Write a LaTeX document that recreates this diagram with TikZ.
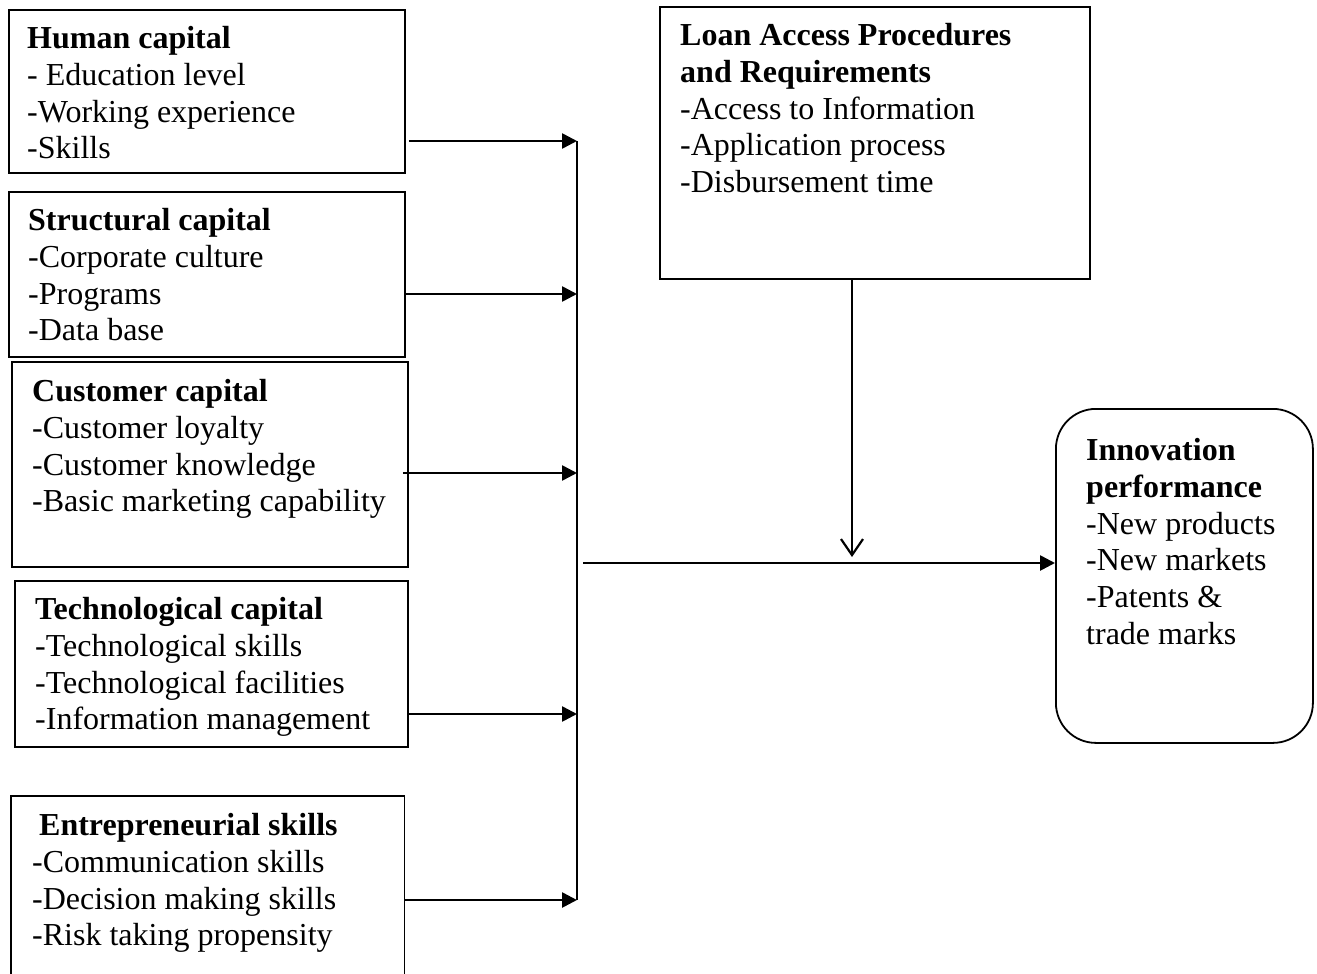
\documentclass[tikz,border=0pt]{standalone}
\usepackage{fontspec}
\setmainfont{Liberation Serif}
\usetikzlibrary{arrows.meta}
\begin{document}
\begin{tikzpicture}[x=1pt,y=-1pt,
  boxshape/.style={draw,line width=1.8pt,inner sep=0pt,anchor=north west},
  boxtext/.style={inner sep=0pt,anchor=north west,align=left,
    font=\fontsize{32}{36.7}\selectfont},
  feed/.style={line width=2.6pt,-{Triangle[length=15pt,width=15pt]}},
  bus/.style={line width=2pt},
  moderate/.style={line width=2.2pt,-{Straight Barb[length=16pt,width=22pt]}}]
\useasboundingbox (0,0) rectangle (1317,974);

% left column of capital boxes
\node[boxshape,minimum width=396pt,minimum height=163pt] (hum) at (8,9) {};
\node[boxtext] (hum-t) at (27,26.4)
  {\textbf{Human capital}\\- Education level\\-Working experience\\-Skills};

\node[boxshape,minimum width=396pt,minimum height=165pt] (str) at (8,191) {};
\node[boxtext] (str-t) at (28,208.4)
  {\textbf{Structural capital}\\-Corporate culture\\-Programs\\-Data base};

\node[boxshape,minimum width=396pt,minimum height=205pt] (cus) at (11,361) {};
\node[boxtext] (cus-t) at (32,379.4)
  {\textbf{Customer capital}\\-Customer loyalty\\-Customer knowledge\\-Basic marketing capability};

\node[boxshape,minimum width=393pt,minimum height=166pt] (tec) at (14,580) {};
\node[boxtext] (tec-t) at (35,597.4)
  {\textbf{Technological capital}\\-Technological skills\\-Technological facilities\\-Information management};

% entrepreneurial box runs past the lower edge
\node[inner sep=0pt,anchor=north west,minimum width=393pt,minimum height=200pt] (ent) at (11,796) {};
\draw[line width=1.8pt] (ent.south west) |- (ent.north east) -- (ent.south east);
\node[boxtext] (ent-t) at (32,813.4)
  {\hspace*{7pt}\textbf{Entrepreneurial skills}\\-Communication skills\\-Decision making skills\\-Risk taking propensity};

% moderator box
\node[boxshape,minimum width=430pt,minimum height=272pt] (loan) at (659,6) {};
\node[boxtext] (loan-t) at (680,23.4)
  {\textbf{Loan Access Procedures}\\\textbf{and Requirements}\\-Access to Information\\-Application process\\-Disbursement time};

% outcome box
\node[boxshape,rounded corners=40pt,minimum width=257pt,minimum height=334pt] (inn) at (1055,408) {};
\node[boxtext] (inn-t) at (1086,438.4)
  {\textbf{Innovation}\\\textbf{performance}\\-New products\\-New markets\\-Patents \&\\trade marks};

% collector bus
\coordinate (j1) at (577,141);
\coordinate (j2) at (577,294);
\coordinate (j3) at (577,473);
\coordinate (j4) at (577,714);
\coordinate (j5) at (577,900);
\draw[bus] (j1) -- (j5);

\draw[feed] (j1 -| hum.east) ++(3,0) -- (j1);
\draw[feed] (j2 -| str.east) -- (j2);
\draw[feed] ([xshift=-6pt]j3 -| cus.east) -- (j3);
\draw[feed] (j4 -| tec.east) -- (j4);
\draw[feed] (j5 -| ent.east) -- (j5);

% main effect and moderation
\coordinate (m0) at (583,563);
\draw[feed] (m0) -- (m0 -| inn.west);
\coordinate (d1) at (852,557);
\draw[moderate] (d1 |- loan.south) -- (d1);
\end{tikzpicture}
\end{document}
